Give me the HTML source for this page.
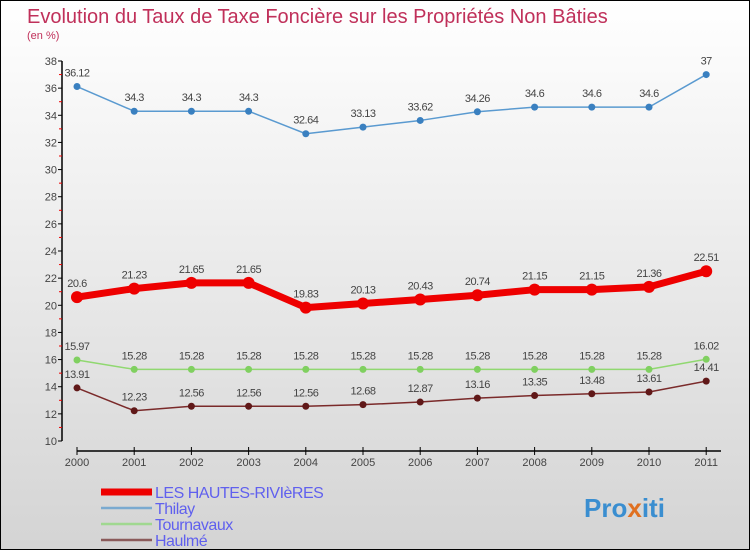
<!DOCTYPE html>
<html><head><meta charset="utf-8"><style>
html,body{margin:0;padding:0}
body{width:750px;height:550px;overflow:hidden;font-family:"Liberation Sans",sans-serif}
#wrap{position:relative;width:748px;height:548px;border:1px solid #000;background:linear-gradient(#ffffff,#d4d4d4)}
</style></head><body>
<div id="wrap">
<svg id="chart" width="748" height="548" style="position:absolute;left:0;top:0">
<text x="26" y="22" font-size="20" fill="#c0305a">Evolution du Taux de Taxe Foncière sur les Propriétés Non Bâties</text>
<text x="26" y="38" font-size="11" fill="#c0305a">(en %)</text>
<g id="axes"></g><g id="series"></g><g id="legend"></g>
<text x="583" y="516" font-size="26" font-weight="bold" fill="#3a8ed0">Pro<tspan fill="#e07020">x</tspan>iti</text>
</svg>
</div>
<script>
const years=["2000","2001","2002","2003","2004","2005","2006","2007","2008","2009","2010","2011"];
const lesHautes=[20.6,21.23,21.65,21.65,19.83,20.13,20.43,20.74,21.15,21.15,21.36,22.51];
const thilay=[36.12,34.3,34.3,34.3,32.64,33.13,33.62,34.26,34.6,34.6,34.6,37];
const tournavaux=[15.97,15.28,15.28,15.28,15.28,15.28,15.28,15.28,15.28,15.28,15.28,16.02];
const haulme=[13.91,12.23,12.56,12.56,12.56,12.68,12.87,13.16,13.35,13.48,13.61,14.41];
const yTicks=[10,12,14,16,18,20,22,24,26,28,30,32,34,36,38];
const NS="http://www.w3.org/2000/svg";
function xS(i){return 76+i*57.2;}
function yS(v){return 440-(v-10)*(380/28);}
function mk(tag,attrs,parent){const e=document.createElementNS(NS,tag);for(const k in attrs)e.setAttribute(k,attrs[k]);parent.appendChild(e);return e;}
const axes=document.getElementById('axes');
let a=mk('line',{x1:61,y1:yS(38),x2:61,y2:440,stroke:'#000','stroke-width':1.5},axes);


let xa=mk('line',{x1:76,y1:450,x2:720,y2:450,stroke:'#000','stroke-width':1.5},axes);


yTicks.forEach(v=>{
  mk('line',{x1:57,y1:yS(v),x2:61,y2:yS(v),stroke:'#000'},axes);
  if(v<38) mk('line',{x1:58,y1:yS(v+1),x2:61,y2:yS(v+1),stroke:'#e00'},axes);
  const t=mk('text',{x:56,y:yS(v)+4,'font-size':11,'text-anchor':'end',fill:'#444'},axes);
  t.textContent=v;
  
  
});
years.forEach((y,i)=>{
  mk('line',{x1:xS(i),y1:446,x2:xS(i),y2:454,stroke:'#000'},axes);
  const t=mk('text',{x:xS(i),y:465,'font-size':11,'text-anchor':'middle',fill:'#444'},axes);
  t.textContent=y;
  
  
});
const series=[
 {name:'thilay',vals:thilay,color:'#5a9ad0',w:1.5,r:3.5,dot:'#3a80c0'},
 {name:'tournavaux',vals:tournavaux,color:'#90d870',w:1.5,r:3.5,dot:'#80d060'},
 {name:'haulme',vals:haulme,color:'#7a2a2a',w:1.5,r:3.5,dot:'#601818'},
 {name:'les-hautes-rivieres',vals:lesHautes,color:'#ee0000',w:7,r:6,dot:'#ee0000'}
];
const sg=document.getElementById('series');
series.forEach(s=>{
  const g=mk('g',{},sg);
  
  
  const p=mk('polyline',{points:s.vals.map((v,i)=>xS(i)+','+yS(v)).join(' '),fill:'none',stroke:s.color,'stroke-width':s.w,'stroke-linejoin':'round'},g);
  
  
  s.vals.forEach((v,i)=>{
    const c=mk('circle',{cx:xS(i),cy:yS(v),r:s.r,fill:s.dot},g);
    
    
    const t=mk('text',{x:xS(i),y:yS(v)-10,'font-size':11,'text-anchor':'middle',fill:'#444','letter-spacing':'-0.5'},g);
    t.textContent=String(v);
    
    
  });
});
const leg=[['LES HAUTES-RIVIèRES','#ee0000',7],['Thilay','#7aaad0',2.5],['Tournavaux','#a0d890',2.5],['Haulmé','#8a5a5a',2.5]];
const lg=document.getElementById('legend');
leg.forEach((l,i)=>{
  const y=491+i*16;
  const g=mk('g',{},lg);
  
  
  mk('line',{x1:100,y1:y,x2:151,y2:y,stroke:l[1],'stroke-width':l[2]},g);
  const t=mk('text',{x:154,y:y+6,'font-size':16,fill:'#6060ee','letter-spacing':'-0.5'},g);
  t.textContent=l[0];
});
</script>
</body></html>
